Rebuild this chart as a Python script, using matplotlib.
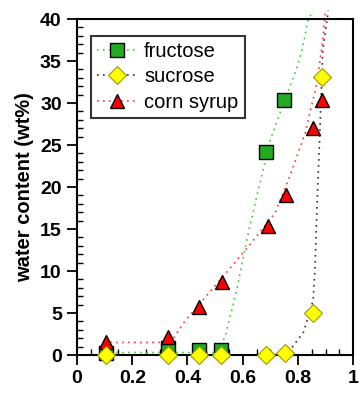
import matplotlib
matplotlib.use("Agg")
import matplotlib.pyplot as plt
from matplotlib.lines import Line2D
from matplotlib.ticker import MultipleLocator

# measured points
fru_x = [0.105, 0.33, 0.44, 0.52, 0.685, 0.75]
fru_y = [0.2, 0.8, 0.6, 0.6, 24.2, 30.4]
suc_x = [0.105, 0.33, 0.44, 0.52, 0.685, 0.754, 0.855, 0.888]
suc_y = [0.0, 0.0, 0.0, 0.0, 0.0, 0.2, 5.0, 33.1]
corn_x = [0.105, 0.33, 0.44, 0.525, 0.69, 0.755, 0.855, 0.888]
corn_y = [1.5, 2.2, 5.7, 8.7, 15.3, 19.0, 27.0, 30.3]

# fitted guide curves (dotted)
fru_fx = [0.12, 0.33, 0.50, 0.536, 0.554, 0.58, 0.598, 0.62, 0.648, 0.70, 0.735, 0.79, 0.815, 0.837, 0.855]
fru_fy = [0.3, 0.3, 0.3, 2.1, 4.5, 8.0, 11.0, 14.5, 18.5, 25.6, 28.8, 33.6, 36.3, 39.9, 41.0]
corn_fx = [0.12, 0.34, 0.385, 0.47, 0.548, 0.615, 0.717, 0.772, 0.826, 0.869, 0.89, 0.90]
corn_fy = [1.5, 1.5, 3.8, 7.1, 10.1, 12.7, 16.9, 21.4, 26.4, 32.4, 37.5, 41.0]
suc_fx = [0.12, 0.76, 0.79, 0.82, 0.855, 0.862, 0.869, 0.877, 0.89, 0.91]
suc_fy = [0.0, 0.0, 1.4, 2.7, 6.5, 10.5, 17.6, 24.4, 36.3, 41.0]

labels = ["fructose", "sucrose", "corn syrup"]
xtick_vals = [0, 0.2, 0.4, 0.6, 0.8, 1.0]
xtick_labels = ["0", "0.2", "0.4", "0.6", "0.8", "1"]

plt.rcParams['font.family'] = ['Liberation Sans', 'DejaVu Sans']

fig = plt.figure(figsize=(3.6, 3.96), dpi=100)
ax = fig.add_axes([0.214, 0.1035, 0.767, 0.8485])

green_line = '#3ccc3c'
red_line = '#ff3333'
black_line = '#333333'
dots = (0, (1, 2.6))
lw = 1.2

ax.plot(fru_fx, fru_fy, ls=dots, color=green_line, lw=lw, clip_on=False, zorder=2)
ax.plot(suc_fx, suc_fy, ls=dots, color=black_line, lw=lw, clip_on=False, zorder=2)
ax.plot(corn_fx, corn_fy, ls=dots, color=red_line, lw=lw, clip_on=False, zorder=2)

sq = dict(marker='s', ms=10.5, mfc='#22aa22', mec='black', mew=1.0)
di = dict(marker='D', ms=9.5, mfc='#ffff00', mec='#999900', mew=0.8)
tr = dict(marker='^', ms=10.5, mfc='#ff0000', mec='black', mew=1.0)

ax.plot(fru_x, fru_y, ls='none', clip_on=False, zorder=3, **sq)
ax.plot(corn_x, corn_y, ls='none', clip_on=False, zorder=4, **tr)
ax.plot(suc_x, suc_y, ls='none', clip_on=False, zorder=5, **di)

handles = [
    Line2D([], [], ls=dots, color=green_line, lw=lw, **sq),
    Line2D([], [], ls=dots, color=black_line, lw=lw, **di),
    Line2D([], [], ls=dots, color=red_line, lw=lw, **tr),
]
leg = ax.legend(handles, labels, loc='upper left', bbox_to_anchor=(0.05, 0.95), fontsize=14.5,
                frameon=True, fancybox=False, edgecolor='black', handlelength=2.0,
                borderpad=0.3, labelspacing=0.32, handletextpad=0.35, borderaxespad=0)
leg.get_frame().set_linewidth(1.5)

ax.set_xlim(0, 1)
ax.set_ylim(0, 40)
ax.xaxis.set_minor_locator(MultipleLocator(0.05))
ax.yaxis.set_major_locator(MultipleLocator(5))
ax.yaxis.set_minor_locator(MultipleLocator(1))
ax.set_xticks(xtick_vals)
ax.set_xticklabels(xtick_labels)
ax.tick_params(which='major', direction='out', length=7, width=1.3, labelsize=14, pad=4)
ax.tick_params(which='minor', direction='in', length=4, width=1.0)
for lab in ax.get_xticklabels() + ax.get_yticklabels():
    lab.set_fontweight('bold')
for s in ax.spines.values():
    s.set_linewidth(1.5)

ax.set_ylabel("water content (wt%)", fontsize=14.5, fontweight='bold', labelpad=4)

fig.savefig("out.png", dpi=100)
